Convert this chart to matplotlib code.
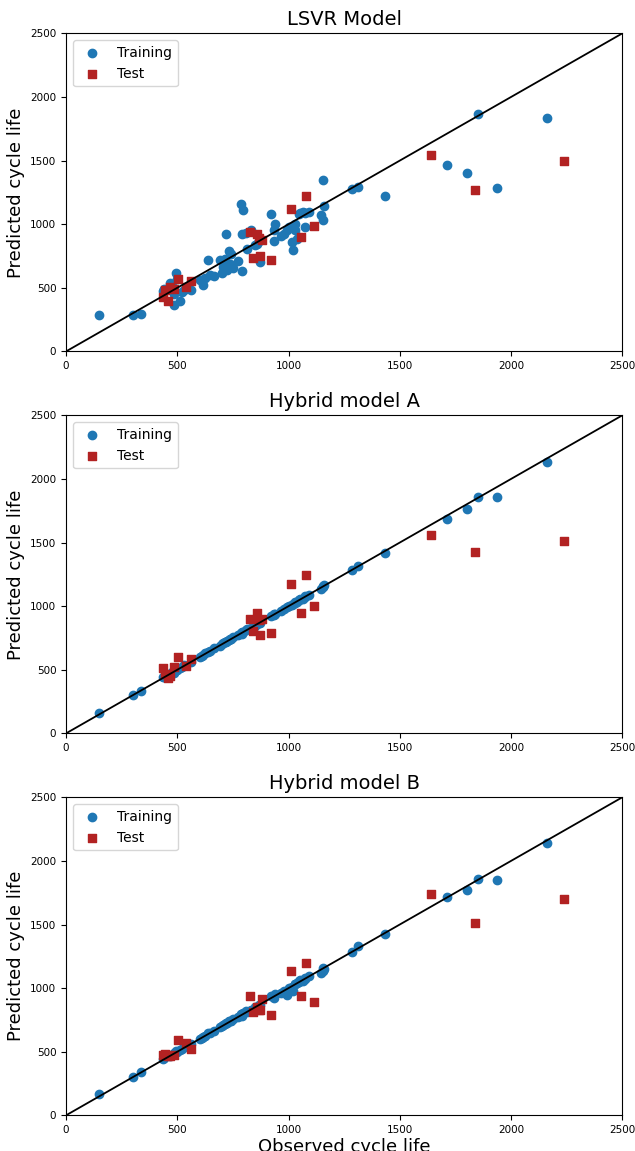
import numpy as np
import matplotlib.pyplot as plt

# observed cycle life, training cells
train_obs = [150, 303, 337, 435, 440, 469, 475, 484, 487, 496, 498, 513, 520,
             532, 562, 600, 610, 617, 625, 637, 647, 665, 692,
             703, 707, 715, 719, 722, 733, 737, 740, 752, 775,
             787, 790, 796, 791, 809, 815, 830, 850, 857, 868,
             872, 922, 934, 935, 940, 965, 980, 992, 1000, 1015,
             1018, 1027, 1031, 1036, 1046, 1048, 1052, 1063, 1075, 1075,
             1093, 1145, 1157, 1160, 1156, 1284, 1311, 1434, 1710, 1801,
             1852, 1935, 2160]

train_lsvr = [283, 283, 291, 474, 490, 540, 511, 367, 453, 616, 571, 396, 466,
              485, 482, 563, 558, 519, 579, 721, 597, 595, 721,
              616, 663, 729, 920, 642, 789, 689, 763, 658, 710,
              1156, 632, 1108, 920, 930, 805, 957, 833, 846, 867,
              700, 1077, 870, 954, 1004, 907, 920, 951, 977, 860,
              794, 1004, 951, 881, 1077, 899, 1088, 1095, 1088, 977,
              1095, 1069, 1035, 1145, 1347, 1279, 1292, 1221, 1465, 1405,
              1866, 1287, 1837]

train_hyb_a = [162, 301, 333, 440, 446, 462, 480, 478, 490, 500, 497, 510, 522,
               535, 560, 598, 612, 615, 628, 640, 645, 668, 690,
               700, 710, 718, 716, 725, 731, 740, 738, 755, 772,
               790, 785, 800, 795, 812, 818, 826, 845, 860, 865,
               870, 925, 930, 938, 942, 962, 978, 990, 1002, 1010,
               1020, 1025, 1035, 1032, 1050, 1045, 1055, 1060, 1070, 1080,
               1090, 1138, 1160, 1169, 1152, 1284, 1315, 1415, 1688, 1763,
               1855, 1858, 2133]

train_hyb_b = [165, 301, 338, 440, 452, 470, 478, 480, 492, 505, 500, 512, 520,
               540, 558, 600, 610, 618, 625, 645, 650, 665, 695,
               705, 712, 720, 725, 728, 738, 742, 745, 760, 770,
               795, 780, 805, 800, 820, 815, 830, 848, 852, 870,
               868, 935, 925, 940, 955, 960, 975, 945, 1000, 1005,
               975, 1030, 1030, 1040, 1055, 1048, 1060, 1058, 1075, 1080,
               1095, 1119, 1132, 1150, 1160, 1287, 1334, 1425, 1716, 1769,
               1858, 1848, 2144]

# observed cycle life, test cells
test_obs = [438, 446, 460, 468, 485, 502, 537, 563, 829, 842, 857, 866, 871,
            882, 919, 1009, 1054, 1079, 1115, 1638, 1836, 2236]

test_lsvr = [427, 485, 396, 506, 493, 571, 506, 553, 941, 734, 920, 894, 752,
             878, 715, 1122, 896, 1219, 985, 1541, 1268, 1494]

test_hyb_a = [516, 470, 435, 450, 521, 600, 529, 587, 901, 802, 946, 888, 773,
              901, 791, 1174, 949, 1245, 1004, 1559, 1428, 1512]

test_hyb_b = [477, 485, 470, 466, 472, 590, 571, 519, 936, 812, 852, 825, 825,
              917, 791, 1135, 941, 1195, 888, 1740, 1515, 1698]

titles = ['LSVR Model', 'Hybrid model A', 'Hybrid model B']
train_pred = [train_lsvr, train_hyb_a, train_hyb_b]
test_pred = [test_lsvr, test_hyb_a, test_hyb_b]

fig, axes = plt.subplots(3, 1, figsize=(6.35, 11.51), dpi=100)
fig.subplots_adjust(left=0.104, right=0.98, top=0.971, bottom=0.031, hspace=0.201)

for ax, title, ytr, yte in zip(axes, titles, train_pred, test_pred):
    ax.scatter(train_obs, ytr, color='#1f77b4', label='Training', zorder=2)
    ax.scatter(test_obs, yte, color='firebrick', marker='s', label='Test', zorder=3)
    ax.plot([0, 2500], [0, 2500], color='black', lw=1.3, zorder=4)
    ax.set_xlim(0, 2500)
    ax.set_ylim(0, 2500)
    ax.set_xticks(np.arange(0, 2501, 500))
    ax.set_yticks(np.arange(0, 2501, 500))
    ax.tick_params(axis='both', labelsize=7.5)
    ax.set_title(title, fontsize=14)
    ax.set_ylabel('Predicted cycle life', fontsize=13)
    ax.legend(loc='upper left', fontsize=10)

axes[-1].set_xlabel('Observed cycle life', fontsize=13, labelpad=2)

plt.savefig('out.png', dpi=100)
